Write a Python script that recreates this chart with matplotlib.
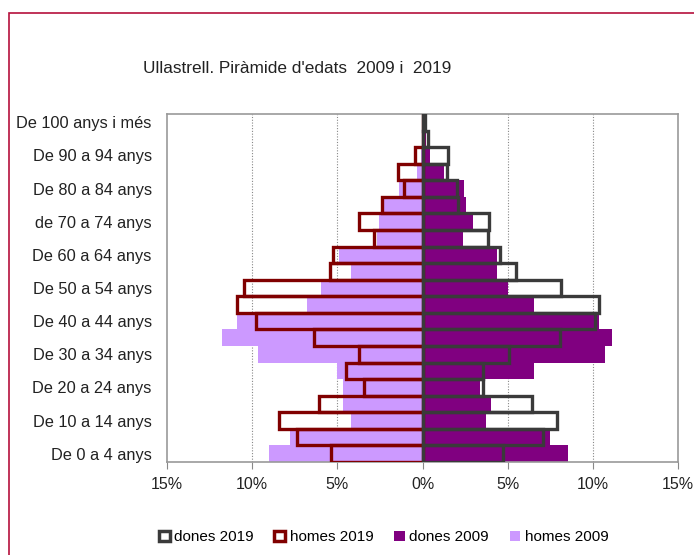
import numpy as np
import matplotlib
matplotlib.use("Agg")
import matplotlib.pyplot as plt
from matplotlib.patches import Rectangle, Patch

plt.rcParams['font.family'] = ['Liberation Sans', 'DejaVu Sans']

# age groups from 0-4 up to 100+, values in %
labels = ['De 0 a 4 anys', '', 'De 10 a 14 anys', '', 'De 20 a 24 anys', '',
          'De 30 a 34 anys', '', 'De 40 a 44 anys', '', 'De 50 a 54 anys', '',
          'De 60 a 64 anys', '', 'de 70 a 74 anys', '', 'De 80 a 84 anys', '',
          'De 90 a 94 anys', '', 'De 100 anys i més']

homes_2019 = [5.4, 7.35, 8.4, 6.1, 3.45, 4.5, 3.75, 6.35, 9.75, 10.9, 10.5,
              5.45, 5.25, 2.85, 3.75, 2.35, 1.1, 1.45, 0.45, 0.0, 0.0]
homes_2009 = [9.0, 7.75, 4.2, 4.65, 4.65, 5.0, 9.65, 11.75, 10.9, 6.8, 5.95,
              4.2, 4.9, 2.7, 2.55, 2.25, 1.4, 0.35, 0.1, 0.0, 0.0]
dones_2019 = [4.7, 7.1, 7.9, 6.45, 3.55, 3.55, 5.1, 8.05, 10.15, 10.35, 8.15,
              5.5, 4.55, 3.85, 3.9, 2.1, 2.05, 1.45, 1.5, 0.35, 0.15]
dones_2009 = [8.55, 7.5, 3.75, 4.0, 3.35, 6.55, 10.7, 11.15, 10.35, 6.55, 5.0,
              4.4, 4.4, 2.35, 2.95, 2.55, 2.45, 1.25, 0.45, 0.2, 0.0]

xticks = [-15, -10, -5, 0, 5, 10, 15]

c_d19 = '#3a3a3a'
c_h19 = '#800000'
c_d09 = '#800080'
c_h09 = '#cc99ff'

fig = plt.figure(figsize=(6.94, 5.55), dpi=100)
ax = fig.add_axes([0.2406, 0.1676, 0.7364, 0.627])

y = np.arange(len(labels))
ax.barh(y, -np.array(homes_2009), height=1.0, color=c_h09, zorder=2)
ax.barh(y, dones_2009, height=1.0, color=c_d09, zorder=2)
ax.barh(y, -np.array(homes_2019), height=1.0, fill=False, edgecolor=c_h19, linewidth=2.4, zorder=3)
ax.barh(y, dones_2019, height=1.0, fill=False, edgecolor=c_d19, linewidth=2.4, zorder=3)
ax.axvline(0, color=c_d19, linewidth=2.2, zorder=4)

ax.set_xlim(-15, 15)
ax.set_ylim(-0.5, len(labels) - 0.5)
ax.set_xticks(xticks)
ax.set_xticklabels([f'{abs(v)}%' for v in xticks], fontsize=11.5, color='#222222')
ax.set_yticks(y)
ax.set_yticklabels(labels, fontsize=11.8, color='#222222')
ax.tick_params(axis='y', length=0, pad=11)
ax.tick_params(axis='x', length=5, color='#888888', pad=6)
for v in [-10, -5, 5, 10]:
    ax.axvline(v, color='#888888', linestyle=(0, (1, 1.5)), linewidth=0.8, zorder=1)
for s in ax.spines.values():
    s.set_color('#999999')
    s.set_linewidth(1.2)

fig.text(0.428, 0.877, "Ullastrell. Piràmide d'edats  2009 i  2019",
         ha='center', va='center', fontsize=12.4, color='#222222')

handles = [Patch(facecolor='white', edgecolor=c_d19, linewidth=2.5),
           Patch(facecolor='white', edgecolor=c_h19, linewidth=2.5),
           Patch(facecolor=c_d09, edgecolor='none'),
           Patch(facecolor=c_h09, edgecolor='none')]
fig.legend(handles, ['dones 2019', 'homes 2019', 'dones 2009', 'homes 2009'],
           loc='center', bbox_to_anchor=(0.553, 0.032), ncol=4, frameon=False,
           fontsize=11, handlelength=0.7, handleheight=0.7, handletextpad=0.3,
           columnspacing=1.35)

# outer red frame
fig.patches.append(Rectangle((0.013, -0.2), 1.2, 1.1766, transform=fig.transFigure,
                             fill=False, edgecolor='#b5103c', linewidth=1.2))

fig.savefig('out.png', dpi=100)
